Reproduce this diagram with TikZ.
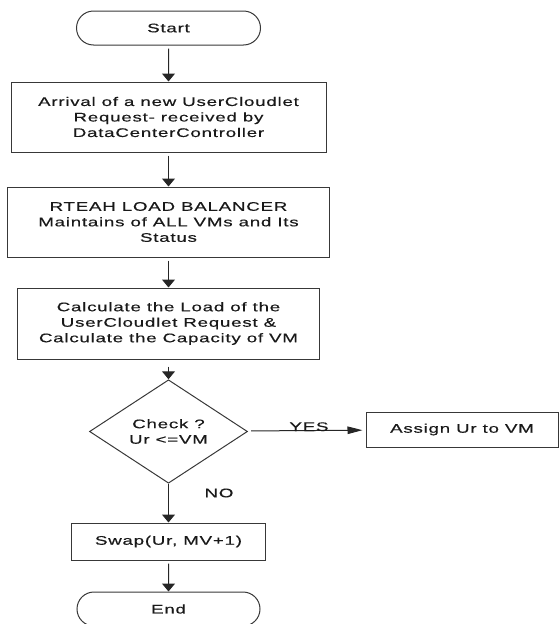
\documentclass[tikz,border=0pt]{standalone}
\usepackage{fontspec}
\setmainfont{Liberation Sans}[FakeStretch=1.5,LetterSpace=6,FakeBold=0.4]
\usetikzlibrary{shapes.geometric,shapes.misc,arrows.meta}

\begin{document}
\begin{tikzpicture}[x=1pt,y=-1pt,
	every node/.style={text=black!90,font=\fontsize{12.5}{15.5}\selectfont},
	box/.style={draw=black!78,line width=1pt,align=center,inner sep=0pt},
	term/.style={box,rounded rectangle},
	decision/.style={box,diamond},
	down/.style={draw=black!85,line width=1pt,shorten <=3pt,-{Triangle[length=8pt,width=13pt]}},
	side/.style={draw=black!85,line width=1pt,shorten <=4pt,shorten >=3pt,-{Triangle[length=15pt,width=7.5pt]}}]
			\useasboundingbox (0,0) rectangle (559,624);
			\node[term,minimum width=184pt,minimum height=34pt] (start) at (168.5,28) {Start};
			\node[box,minimum width=315pt,minimum height=70pt] (arrival) at (168.5,117) {Arrival of a new UserCloudlet\\Request- received by\\DataCenterController};
			\node[box,minimum width=322pt,minimum height=70pt] (balancer) at (168.5,222) {RTEAH LOAD BALANCER\\Maintains of ALL VMs and Its\\Status};
			\node[box,minimum width=302pt,minimum height=71pt] (calc) at (168.5,323.5) {Calculate the Load of the\\UserCloudlet Request \&\\Calculate the Capacity of VM};
			\node[decision,minimum width=158pt,minimum height=67pt] (check) at (168.5,431.5) {Check ?\\Ur <=VM};
			\node[box,minimum width=192pt,minimum height=35pt] (assign) at (462,429.5) {Assign Ur to VM};
			\node[box,minimum width=194pt,minimum height=37pt] (swap) at (168.5,541.5) {Swap(Ur, MV+1)};
			\node[term,minimum width=183pt,minimum height=34pt] (end) at (168.5,609) {End};
			\draw[down] (start) -- (arrival);
			\draw[down] (arrival) -- (balancer);
			\draw[down] (balancer) -- (calc);
			\draw[down,shorten <=7pt] (calc) -- (check);
			\draw[down,shorten <=0pt] (check) -- (swap);
			\draw[down] (swap) -- (end);
			\draw[side] (check) -- (assign);
			\node[anchor=base] (yes) at (309,431) {YES};
			\node (no) at (219,493) {NO};
		\end{tikzpicture}
\end{document}
